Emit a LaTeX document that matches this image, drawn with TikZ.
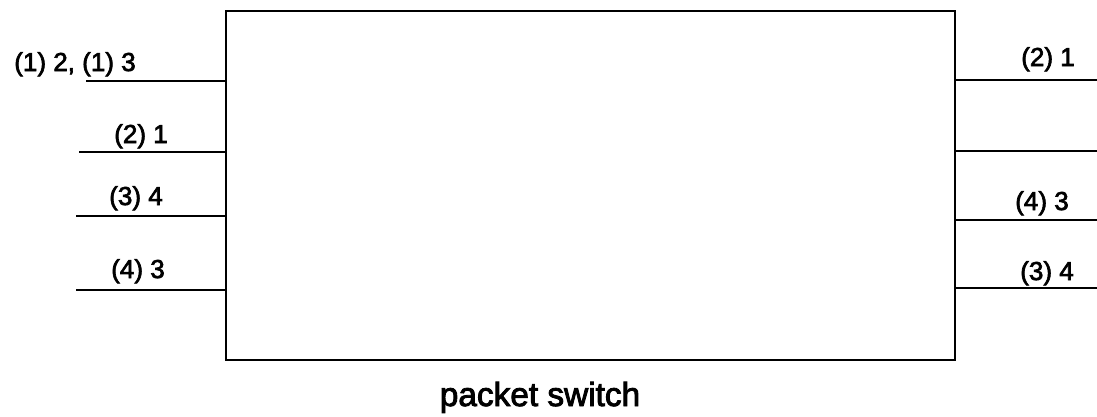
\documentclass[tikz,border=0pt]{standalone}
\usepackage{fontspec}
\setmainfont[FakeBold=2.6]{Liberation Sans}
\begin{document}
\begin{tikzpicture}
  [x=0.02cm,y=-0.02cm,line width=1.3pt,
   every node/.style={inner sep=0pt,anchor=base},
   lbl/.style={font=\fontsize{14.8}{16}\selectfont}]
  \useasboundingbox (0,0) rectangle (1097,416);

  % the switch itself
  \node (sw) [draw,anchor=center,minimum width=14.58cm,minimum height=6.98cm] at (590.5,185.5) {};
  \node (name) [font=\fontsize{19}{22}\selectfont] at (540,406) {packet switch};

  % input lines
  \coordinate (in1) at (86,81);
  \coordinate (in2) at (79,152);
  \coordinate (in3) at (76,216);
  \coordinate (in4) at (76,290);
  % output lines
  \coordinate (out1) at (1097,80);
  \coordinate (out2) at (1097,151);
  \coordinate (out3) at (1097,220);
  \coordinate (out4) at (1097,288);

  \foreach \p in {in1,in2,in3,in4}
    \draw (\p) -- (\p -| sw.west);
  \foreach \p in {out1,out2,out3,out4}
    \draw (\p -| sw.east) -- (\p);

  \node (l1) [lbl] at (75,71) {(1) 2, (1) 3};
  \node (l2) [lbl] at (141,143) {(2) 1};
  \node (l3) [lbl] at (136,205) {(3) 4};
  \node (l4) [lbl] at (138,278) {(4) 3};
  \node (r1) [lbl] at (1048,66) {(2) 1};
  \node (r3) [lbl] at (1042,210) {(4) 3};
  \node (r4) [lbl] at (1047,280) {(3) 4};

\end{tikzpicture}
\end{document}
